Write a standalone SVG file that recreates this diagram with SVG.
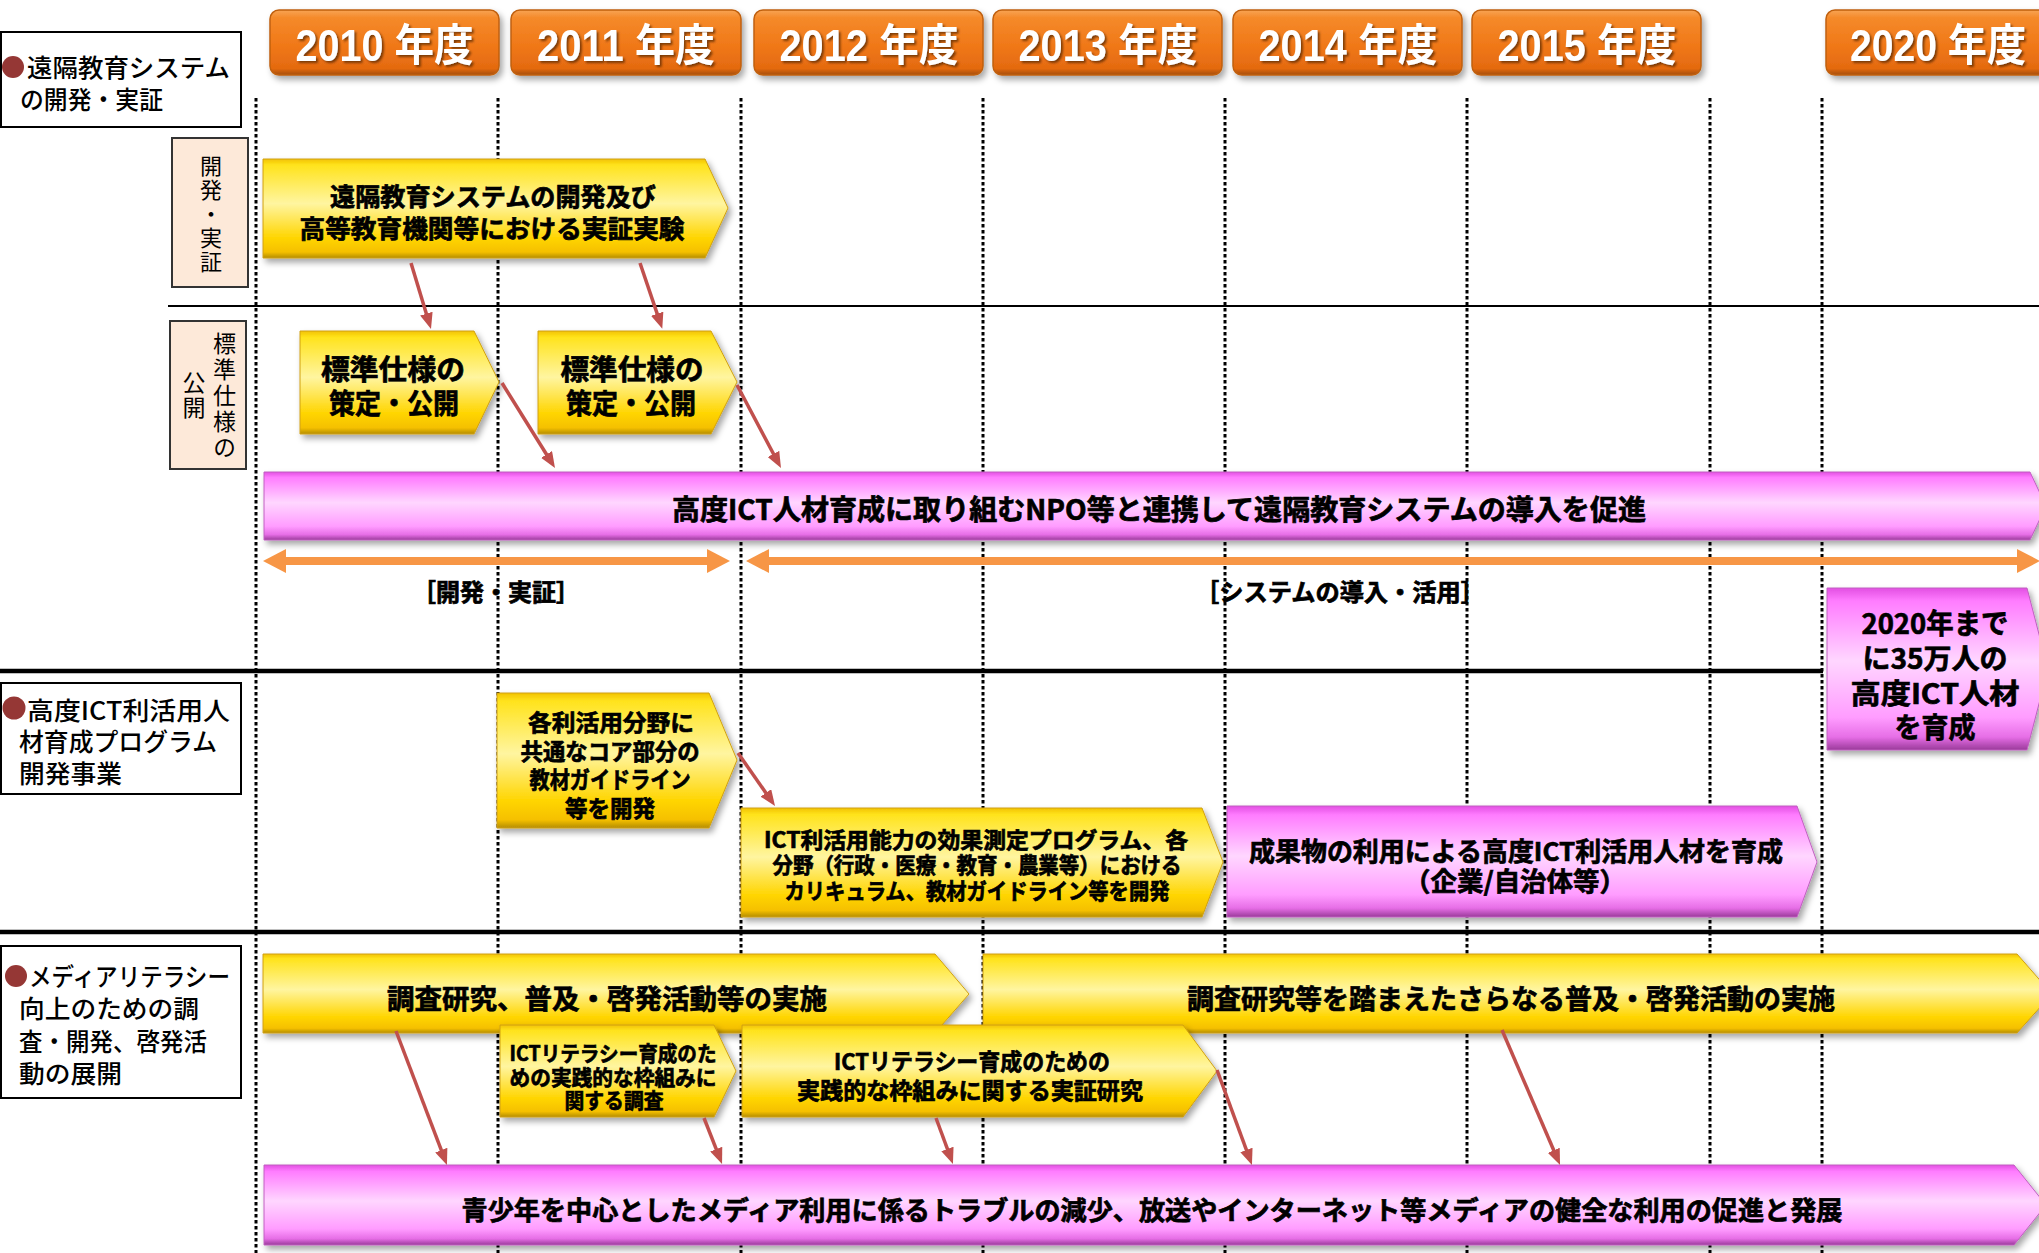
<svg xmlns="http://www.w3.org/2000/svg" width="2039" height="1253" viewBox="0 0 2039 1253">
<defs>
<linearGradient id="gY" x1="0" y1="0" x2="0" y2="1">
<stop offset="0" stop-color="#F2C200"/><stop offset="0.06" stop-color="#FFE31C"/><stop offset="0.45" stop-color="#FFF5A0"/><stop offset="0.8" stop-color="#FFD500"/><stop offset="0.94" stop-color="#F5C000"/><stop offset="1" stop-color="#B48D08"/>
</linearGradient>
<linearGradient id="gM" x1="0" y1="0" x2="0" y2="1">
<stop offset="0" stop-color="#E24FE2"/><stop offset="0.08" stop-color="#FF7CFF"/><stop offset="0.45" stop-color="#FFD6FF"/><stop offset="0.8" stop-color="#FF9CFF"/><stop offset="0.92" stop-color="#E66EE6"/><stop offset="1" stop-color="#9A3A9A"/>
</linearGradient>
<linearGradient id="gO" x1="0" y1="0" x2="0" y2="1">
<stop offset="0" stop-color="#F8A455"/><stop offset="0.12" stop-color="#F58A2A"/><stop offset="0.55" stop-color="#F07818"/><stop offset="0.9" stop-color="#E46A10"/><stop offset="1" stop-color="#A54E0E"/>
</linearGradient>
<filter id="sh" x="-3%" y="-15%" width="108%" height="150%">
<feDropShadow dx="3" dy="4" stdDeviation="3" flood-color="#000" flood-opacity="0.35"/>
</filter>
<filter id="tsh" x="-5%" y="-20%" width="110%" height="150%">
<feDropShadow dx="2" dy="2" stdDeviation="1" flood-color="#5A2A00" flood-opacity="0.75"/>
</filter>
<marker id="ah" viewBox="0 0 16 13" refX="6" refY="6.5" markerWidth="16" markerHeight="13" markerUnits="userSpaceOnUse" orient="auto">
<path d="M0,0 L16,6.5 L0,13 Z" fill="#C0504D"/>
</marker>
<style>
.t{font-family:"Noto Sans CJK JP","Noto Sans CJK SC",sans-serif;font-weight:700;fill:#000;stroke:#000;stroke-width:0.7px;text-anchor:middle;dominant-baseline:central}
.yr{font-family:"Liberation Sans","Noto Sans CJK JP",sans-serif;font-weight:700;fill:#fff;font-size:44px;text-anchor:middle;dominant-baseline:central;filter:url(#tsh)}
.lb{font-family:"Noto Sans CJK JP",sans-serif;font-weight:500;fill:#000;font-size:25px;dominant-baseline:central}
.vt{font-family:"Noto Sans CJK JP",sans-serif;font-weight:400;fill:#000;writing-mode:vertical-rl;dominant-baseline:central}
.ybox{fill:url(#gO);stroke:#C0600F;stroke-width:1.5;filter:url(#sh)}
.yel{fill:url(#gY);stroke:#D0A010;stroke-width:1;filter:url(#sh)}
.mag{fill:url(#gM);stroke:#C060C0;stroke-width:1;filter:url(#sh)}
.dot{stroke:#000;stroke-width:3;stroke-dasharray:3.5 2.5;fill:none}
.hbox{fill:#fff;stroke:#000;stroke-width:2}
.sbox{fill:#FDE9D9;stroke:#333;stroke-width:2}
.bul{fill:#953735}
.con{stroke:#C0504D;stroke-width:3.5;fill:none;marker-end:url(#ah)}
.oa{stroke:#F79646;stroke-width:8;fill:none}
.oah{fill:#F79646}
</style>
</defs>
<rect width="2039" height="1253" fill="#fff"/>

<g id="grid">
<line class="dot" x1="256" y1="98" x2="256" y2="1253"/>
<line class="dot" x1="498" y1="98" x2="498" y2="1253"/>
<line class="dot" x1="741" y1="98" x2="741" y2="1253"/>
<line class="dot" x1="983" y1="98" x2="983" y2="1253"/>
<line class="dot" x1="1225" y1="98" x2="1225" y2="1253"/>
<line class="dot" x1="1467" y1="98" x2="1467" y2="1253"/>
<line class="dot" x1="1710" y1="98" x2="1710" y2="1253"/>
<line class="dot" x1="1822" y1="98" x2="1822" y2="1253"/>
<line x1="168" y1="306" x2="2039" y2="306" stroke="#000" stroke-width="2.2"/>
<line x1="0" y1="671" x2="1823" y2="671" stroke="#000" stroke-width="4.5"/>
<line x1="0" y1="932" x2="2039" y2="932" stroke="#000" stroke-width="4.5"/>
</g>

<g id="years">
<g id="y2010"><rect class="ybox" x="270" y="10" width="229" height="65" rx="9"/><text class="yr" x="384.5" y="45" textLength="178" lengthAdjust="spacingAndGlyphs">2010 年度</text></g>
<g id="y2011"><rect class="ybox" x="511" y="10" width="230" height="65" rx="9"/><text class="yr" x="626" y="45" textLength="178" lengthAdjust="spacingAndGlyphs">2011 年度</text></g>
<g id="y2012"><rect class="ybox" x="754" y="10" width="229" height="65" rx="9"/><text class="yr" x="869" y="45" textLength="179" lengthAdjust="spacingAndGlyphs">2012 年度</text></g>
<g id="y2013"><rect class="ybox" x="993" y="10" width="229" height="65" rx="9"/><text class="yr" x="1108" y="45" textLength="179" lengthAdjust="spacingAndGlyphs">2013 年度</text></g>
<g id="y2014"><rect class="ybox" x="1233" y="10" width="229" height="65" rx="9"/><text class="yr" x="1348" y="45" textLength="179" lengthAdjust="spacingAndGlyphs">2014 年度</text></g>
<g id="y2015"><rect class="ybox" x="1472" y="10" width="229" height="65" rx="9"/><text class="yr" x="1587" y="45" textLength="179" lengthAdjust="spacingAndGlyphs">2015 年度</text></g>
<g id="y2020"><rect class="ybox" x="1826" y="10" width="240" height="65" rx="9"/><text class="yr" x="1938" y="45" textLength="176" lengthAdjust="spacingAndGlyphs">2020 年度</text></g>
</g>

<g id="cat1">
<rect class="hbox" x="1" y="32" width="240" height="95"/>
<circle class="bul" cx="13" cy="67" r="11"/>
<text class="lb" x="27" y="66" textLength="203" lengthAdjust="spacingAndGlyphs">遠隔教育システム</text>
<text class="lb" x="20" y="98" textLength="143" lengthAdjust="spacingAndGlyphs">の開発・実証</text>
</g>
<g id="cat2">
<rect class="hbox" x="1" y="683" width="240" height="111"/>
<circle class="bul" cx="14" cy="708" r="11.5"/>
<text class="lb" x="27" y="709" textLength="203" lengthAdjust="spacingAndGlyphs">高度ICT利活用人</text>
<text class="lb" x="19" y="740" textLength="198" lengthAdjust="spacingAndGlyphs">材育成プログラム</text>
<text class="lb" x="19" y="772" textLength="103" lengthAdjust="spacingAndGlyphs">開発事業</text>
</g>
<g id="cat3">
<rect class="hbox" x="1" y="946" width="240" height="152"/>
<circle class="bul" cx="16" cy="976" r="11"/>
<text class="lb" x="29" y="975" textLength="201" lengthAdjust="spacingAndGlyphs">メディアリテラシー</text>
<text class="lb" x="19" y="1007" textLength="180" lengthAdjust="spacingAndGlyphs">向上のための調</text>
<text class="lb" x="19" y="1040" textLength="188" lengthAdjust="spacingAndGlyphs">査・開発、啓発活</text>
<text class="lb" x="19" y="1072" textLength="103" lengthAdjust="spacingAndGlyphs">動の展開</text>
</g>

<g id="side1">
<rect class="sbox" x="172" y="138" width="76" height="149"/>
<text class="vt" x="211" y="155" font-size="22" letter-spacing="2">開発・実証</text>
</g>
<g id="side2">
<rect class="sbox" x="170" y="321" width="76" height="148"/>
<text class="vt" x="224.5" y="332" font-size="23" letter-spacing="3">標準仕様の</text>
<text class="vt" x="194" y="370.5" font-size="23" letter-spacing="2">公開</text>
</g>

<g id="nA">
<path class="yel" d="M263,159 H705 L728,208 L705,258 H263 Z"/>
<text class="t" font-size="25" x="493" y="195" textLength="326" lengthAdjust="spacingAndGlyphs">遠隔教育システムの開発及び</text>
<text class="t" font-size="25" x="492" y="227" textLength="385" lengthAdjust="spacingAndGlyphs">高等教育機関等における実証実験</text>
</g>
<g id="nB">
<path class="yel" d="M300,331 H474 L499,382 L474,434 H300 Z"/>
<text class="t" font-size="28" x="393" y="368" textLength="144" lengthAdjust="spacingAndGlyphs">標準仕様の</text>
<text class="t" font-size="28" x="394" y="402" textLength="130" lengthAdjust="spacingAndGlyphs">策定・公開</text>
</g>
<g id="nC">
<path class="yel" d="M538,331 H711 L737,382 L711,434 H538 Z"/>
<text class="t" font-size="28" x="632" y="368" textLength="143" lengthAdjust="spacingAndGlyphs">標準仕様の</text>
<text class="t" font-size="28" x="631" y="402" textLength="130" lengthAdjust="spacingAndGlyphs">策定・公開</text>
</g>
<g id="nD">
<path class="mag" d="M264,472 H2030 L2046,506 L2030,540 H264 Z"/>
<text class="t" font-size="28" x="1159" y="508" textLength="974" lengthAdjust="spacingAndGlyphs">高度ICT人材育成に取り組むNPO等と連携して遠隔教育システムの導入を促進</text>
</g>

<g id="spans">
<line class="oa" x1="280" y1="561" x2="714" y2="561"/>
<polygon class="oah" points="263,561 286,549 286,573"/>
<polygon class="oah" points="730,561 707,549 707,573"/>
<line class="oa" x1="763" y1="561" x2="2024" y2="561"/>
<polygon class="oah" points="746,561 769,549 769,573"/>
<polygon class="oah" points="2040,561 2017,549 2017,573"/>
<text class="t" font-size="24" x="496" y="590" textLength="168" lengthAdjust="spacingAndGlyphs">［開発・実証］</text>
<text class="t" font-size="24" x="1340" y="590" textLength="290" lengthAdjust="spacingAndGlyphs">［システムの導入・活用］</text>
</g>

<g id="nE">
<path class="mag" d="M1827,588 H2027 L2048,669 L2027,750 H1827 Z"/>
<text class="t" font-size="28" x="1935" y="622" textLength="147" lengthAdjust="spacingAndGlyphs">2020年まで</text>
<text class="t" font-size="28" x="1935" y="657" textLength="145" lengthAdjust="spacingAndGlyphs">に35万人の</text>
<text class="t" font-size="28" x="1935" y="692" textLength="169" lengthAdjust="spacingAndGlyphs">高度ICT人材</text>
<text class="t" font-size="28" x="1935" y="726" textLength="81" lengthAdjust="spacingAndGlyphs">を育成</text>
</g>

<g id="nF">
<path class="yel" d="M497,693 H709 L737,760 L709,828 H497 Z"/>
<text class="t" font-size="23" x="611" y="721" textLength="166" lengthAdjust="spacingAndGlyphs">各利活用分野に</text>
<text class="t" font-size="23" x="610" y="750" textLength="179" lengthAdjust="spacingAndGlyphs">共通なコア部分の</text>
<text class="t" font-size="23" x="610" y="778" textLength="161" lengthAdjust="spacingAndGlyphs">教材ガイドライン</text>
<text class="t" font-size="23" x="610" y="807" textLength="90" lengthAdjust="spacingAndGlyphs">等を開発</text>
</g>
<g id="nG">
<path class="yel" d="M741,808 H1202 L1223,862 L1202,917 H741 Z"/>
<text class="t" font-size="22" x="976" y="838" textLength="424" lengthAdjust="spacingAndGlyphs">ICT利活用能力の効果測定プログラム、各</text>
<text class="t" font-size="22" x="977" y="863" textLength="409" lengthAdjust="spacingAndGlyphs">分野（行政・医療・教育・農業等）における</text>
<text class="t" font-size="22" x="977" y="889" textLength="385" lengthAdjust="spacingAndGlyphs">カリキュラム、教材ガイドライン等を開発</text>
</g>
<g id="nH">
<path class="mag" d="M1227,806 H1797 L1817,862 L1797,917 H1227 Z"/>
<text class="t" font-size="26" x="1516" y="849" textLength="534" lengthAdjust="spacingAndGlyphs">成果物の利用による高度ICT利活用人材を育成</text>
<text class="t" font-size="26" x="1515" y="879" textLength="222" lengthAdjust="spacingAndGlyphs">（企業/自治体等）</text>
</g>

<g id="nI">
<path class="yel" d="M263,954 H935 L969,994 L935,1033 H263 Z"/>
<text class="t" font-size="27" x="607" y="997" textLength="440" lengthAdjust="spacingAndGlyphs">調査研究、普及・啓発活動等の実施</text>
</g>
<g id="nJ">
<path class="yel" d="M983,954 H2017 L2052,994 L2017,1033 H983 Z"/>
<text class="t" font-size="27" x="1511" y="997" textLength="648" lengthAdjust="spacingAndGlyphs">調査研究等を踏まえたさらなる普及・啓発活動の実施</text>
</g>
<g id="nK">
<path class="yel" d="M500,1025 H714 L736,1071 L714,1117 H500 Z"/>
<text class="t" font-size="21" x="613" y="1052" textLength="207" lengthAdjust="spacingAndGlyphs">ICTリテラシー育成のた</text>
<text class="t" font-size="21" x="613" y="1076" textLength="207" lengthAdjust="spacingAndGlyphs">めの実践的な枠組みに</text>
<text class="t" font-size="21" x="614" y="1099" textLength="99" lengthAdjust="spacingAndGlyphs">関する調査</text>
</g>
<g id="nL">
<path class="yel" d="M742,1025 H1183 L1217,1071 L1183,1117 H742 Z"/>
<text class="t" font-size="23" x="972" y="1060" textLength="276" lengthAdjust="spacingAndGlyphs">ICTリテラシー育成のための</text>
<text class="t" font-size="23" x="970" y="1089" textLength="346" lengthAdjust="spacingAndGlyphs">実践的な枠組みに関する実証研究</text>
</g>
<g id="nM">
<path class="mag" d="M264,1165 H2014 L2046,1205 L2014,1245 H264 Z"/>
<text class="t" font-size="26" x="1152" y="1208" textLength="1381" lengthAdjust="spacingAndGlyphs">青少年を中心としたメディア利用に係るトラブルの減少、放送やインターネット等メディアの健全な利用の促進と発展</text>
</g>

<g id="connectors">
<path class="con" d="M411,263 L428.1,319.4"/>
<path class="con" d="M640,263 L659.1,319.4"/>
<path class="con" d="M502,383 L549.7,459.5"/>
<path class="con" d="M737,385 L776.3,459.2"/>
<path class="con" d="M738,753 L769.3,797.8"/>
<path class="con" d="M396,1031 L443.4,1155.7"/>
<path class="con" d="M704,1118 L718.4,1154.7"/>
<path class="con" d="M936,1118 L949.5,1154.6"/>
<path class="con" d="M1217,1070 L1248.5,1155.6"/>
<path class="con" d="M1502,1030 L1556.1,1155.8"/>
</g>
</svg>
